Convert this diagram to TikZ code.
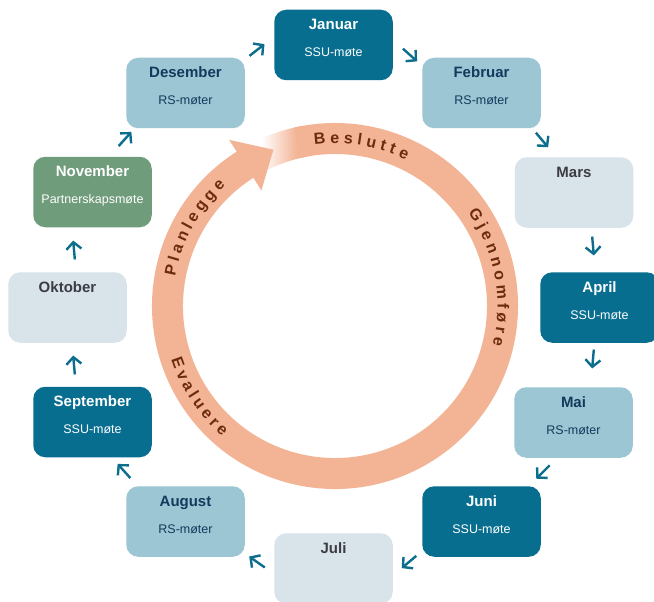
\documentclass[tikz,border=0pt]{standalone}
\usepackage{fontspec}
\setmainfont{Liberation Sans}
\usetikzlibrary{arrows.meta,calc}
\definecolor{cteal}{HTML}{076E90}
\definecolor{cblue}{HTML}{9DC6D4}
\definecolor{cpale}{HTML}{D8E3EA}
\definecolor{cgreen}{HTML}{6F9C7B}
\definecolor{cnavy}{HTML}{123A5C}
\definecolor{cgrey}{HTML}{3C3C42}
\definecolor{cring}{HTML}{F3B496}
\definecolor{cringtxt}{HTML}{6E2A0E}
\definecolor{carrow}{HTML}{0C6D8D}
\pgfdeclarehorizontalshading{ringfade}{100bp}{color(0bp)=(white); color(31bp)=(white); color(64bp)=(cring); color(100bp)=(cring)}
\newcommand\ringfont{\fontsize{16}{16}\selectfont\bfseries}
\newcommand\ringfs{16}
% #1 name, #2 letter/width(per mille em) list, #3 centre angle, #4 baseline radius, #5 dir, #6 rot offset, #7 spacing
\newcommand\arctext[7]{%
  \xdef\totwd{0}%
  \foreach \ch/\w in {#2} {\pgfmathsetmacro\tmpw{\totwd + \w*\ringfs/1000 + #7}\xdef\totwd{\tmpw}}%
  \pgfmathsetmacro\startang{#3 - #5*((\totwd - #7)/2)/#4*180/pi}%
  \xdef\curang{\startang}%
  \foreach \ch/\w [count=\i] in {#2} {%
    \pgfmathsetmacro\cw{\w*\ringfs/1000}%
    \pgfmathsetmacro\midang{\curang + #5*(\cw/2)/#4*180/pi}%
    \pgfmathsetmacro\rotang{\midang + #6}%
    \node[ringtxt, rotate=\rotang] (#1-\i) at ([shift={(\midang:#4)}]C) {\ch};
    \pgfmathsetmacro\nxt{\curang + #5*(\cw + #7)/#4*180/pi}%
    \xdef\curang{\nxt}%
  }%
}
% #1 name, #2 x, #3 y, #4 fill, #5 text colour, #6 title, #7 subtitle
\newcommand\monthbox[7]{%
  \node[box, fill=#4] (#1) at (#2,-#3) {};
  \node[ttl, text=#5] (#1-t) at ([yshift=-20pt]#1.north) {#6};
  \def\tmpsub{#7}%
  \ifx\tmpsub\empty\else
    \node[sub, text=#5] (#1-s) at ([yshift=-47pt]#1.north) {#7};
  \fi
}
\begin{document}
\begin{tikzpicture}[x=1pt,y=1pt,
  box/.style={rounded corners=12pt, minimum width=118.5pt, minimum height=70.5pt, inner sep=0pt, draw=none},
  ttl/.style={anchor=base, inner sep=0pt, font=\fontsize{15}{18}\selectfont\bfseries},
  sub/.style={anchor=base, inner sep=0pt, font=\fontsize{12.5}{15}\selectfont},
  ringtxt/.style={anchor=base, inner sep=0pt, font=\ringfont, text=cringtxt},
  chev/.style={draw=carrow, line width=2.4pt, -{Straight Barb[length=7pt,width=15pt]}}]
\useasboundingbox (0,0) rectangle (654,-602);
\clip (0,0) rectangle (654,-602);
\fill[white] (0,0) rectangle (654,-602);

% ring
\coordinate (C) at (335,-306);
\shade[shading=ringfade] ([shift={(100:152)}]C) arc[start angle=100,end angle=116,radius=152]
  -- ([shift={(116:183)}]C) arc[start angle=116,end angle=100,radius=183] -- cycle;
\draw[cring, line width=31pt] ([shift={(122:167.5)}]C) arc[start angle=122,end angle=463,radius=167.5];
\fill[cring] ([shift={(122.5:137)}]C) -- ([shift={(111.5:168)}]C) -- ([shift={(122.5:197)}]C) -- cycle;

\arctext{besl}{B/722,e/556,s/556,l/278,u/611,t/333,t/333,e/556}{80.7}{162.5}{-1}{-90}{4.4}
\arctext{gjen}{G/778,j/278,e/556,n/611,n/611,o/611,m/889,f/333,ø/611,r/389,e/556}{10.6}{162.5}{-1}{-90}{3.9}
\arctext{plan}{P/667,l/278,a/556,n/611,l/278,e/556,g/611,g/611,e/556}{151}{162.5}{-1}{-90}{3.8}
\arctext{eval}{E/667,v/556,a/556,l/278,u/611,e/556,r/389,e/556}{213.7}{172.5}{1}{90}{3.8}

% month boxes
\monthbox{jan}{333.5}{45}{cteal}{white}{Januar}{SSU-møte}
\monthbox{feb}{481.5}{93}{cblue}{cnavy}{Februar}{RS-møter}
\monthbox{mar}{574}{192.5}{cpale}{cgrey}{Mars}{}
\monthbox{apr}{599.5}{307.5}{cteal}{white}{April}{SSU-møte}
\monthbox{mai}{573.5}{422.5}{cblue}{cnavy}{Mai}{RS-møter}
\monthbox{jun}{481.5}{521.5}{cteal}{white}{Juni}{SSU-møte}
\monthbox{jul}{333.5}{568.5}{cpale}{cgrey}{Juli}{}
\monthbox{aug}{185.5}{521.5}{cblue}{cnavy}{August}{RS-møter}
\monthbox{sep}{92.5}{422}{cteal}{white}{September}{SSU-møte}
\monthbox{okt}{67.5}{307.5}{cpale}{cgrey}{Oktober}{}
\monthbox{nov}{92.5}{192}{cgreen}{white}{November}{Partnerskapsmøte}
\monthbox{des}{185.5}{93}{cblue}{cnavy}{Desember}{RS-møter}

% chevron arrows
\foreach \n/\x/\y/\d in {1/125/139/48, 2/257/50/38, 3/410/55/-42, 4/542/140/-50,
  5/593/246/-85, 6/593/359/-95, 7/543/472/-135, 8/409/562/-140,
  9/257/562/145, 10/124/471/132, 11/74/365/95, 12/74/250/95} {
  \pgfmathsetmacro\back{\d+180}
  \coordinate (c\n) at (\x,-\y);
  \draw[chev] ([shift={(\back:9.5)}]c\n) -- ([shift={(\d:9.5)}]c\n);
}
\end{tikzpicture}
\end{document}
